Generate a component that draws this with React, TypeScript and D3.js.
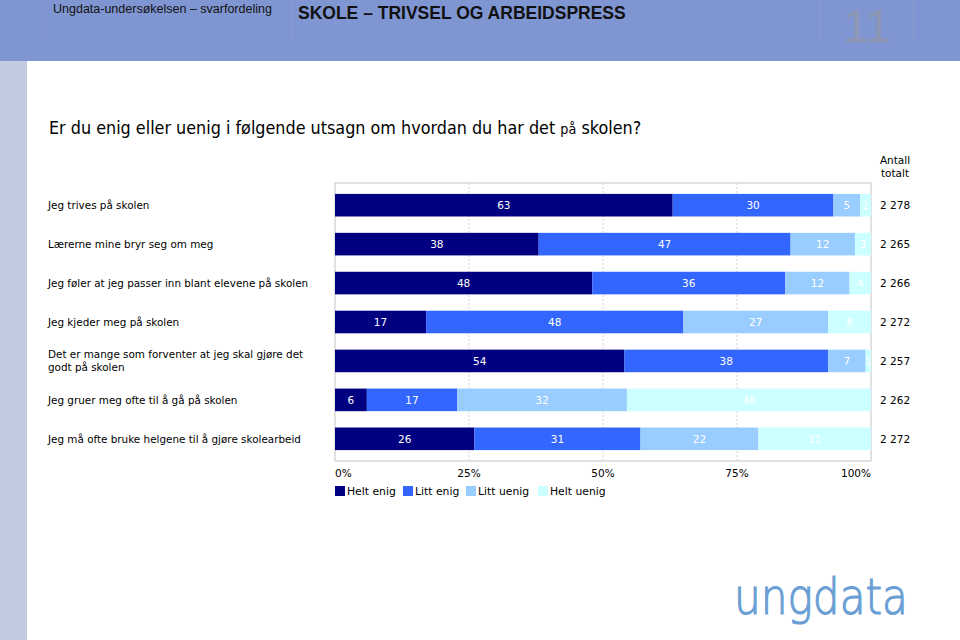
import * as d3 from "d3";

// spørsmål (kategorier)
const statements = [
  ["Jeg trives på skolen"],
  ["Lærerne mine bryr seg om meg"],
  ["Jeg føler at jeg passer inn blant elevene på skolen"],
  ["Jeg kjeder meg på skolen"],
  ["Det er mange som forventer at jeg skal gjøre det", "godt på skolen"],
  ["Jeg gruer meg ofte til å gå på skolen"],
  ["Jeg må ofte bruke helgene til å gjøre skolearbeid"],
];

const seriesNames = ["Helt enig", "Litt enig", "Litt uenig", "Helt uenig"];
const heltEnig = [63, 38, 48, 17, 54, 6, 26];
const littEnig = [30, 47, 36, 48, 38, 17, 31];
const littUenig = [5, 12, 12, 27, 7, 32, 22];
const heltUenig = [2, 3, 4, 8, 1, 46, 21];
const totals = ["2 278", "2 265", "2 266", "2 272", "2 257", "2 262", "2 272"];
const tickValues = [0, 25, 50, 75, 100];

const colors = ["#000080", "#3366ff", "#99ccff", "#ccffff"];

const W = 960;
const H = 640;
const plotLeft = 335;
const plotRight = 871;
const plotTop = 183;
const plotBottom = 461;
const font = "'DejaVu Sans', Verdana, sans-serif";

const App = () => {
  const seriesValues = [heltEnig, littEnig, littUenig, heltUenig];
  const rows = statements.map((_, i) => {
    const vals = seriesValues.map(s => s[i]);
    const sum = d3.sum(vals);
    let acc = 0;
    return vals.map((v, k) => {
      const start = acc;
      acc += (v / sum) * 100;
      return {k, v, x0: start, x1: acc};
    });
  });

  const x = d3.scaleLinear().domain([0, 100]).range([plotLeft, plotRight]);
  const y = d3.scaleBand<number>()
    .domain(d3.range(statements.length))
    .range([plotTop, plotBottom])
    .paddingInner(0.42)
    .paddingOuter(0.28);

  const legendX = [335, 403, 466, 538];
  const mid = (i: number) => y(i)! + y.bandwidth() / 2;

  return (
    <svg width={W} height={H} style={{position: "absolute", left: 0, top: 0}}>
      <rect x={0} y={0} width={W} height={H} fill="#fff"/>
      {/* topplinje */}
      <rect x={0} y={0} width={W} height={61} fill="#8096d2"/>
      {[46, 292, 820, 913].map(lx => (
        <line key={lx} x1={lx} x2={lx} y1={0} y2={40} stroke="#8a9acb" strokeWidth={1}/>
      ))}
      <rect x={0} y={61} width={27} height={H - 61} fill="#c0cbe0"/>
      <text x={53} y={13} fontFamily="'Liberation Sans', Arial, sans-serif" fontSize={12.5} fill="#111">
        Ungdata-undersøkelsen – svarfordeling
      </text>
      <text x={298} y={19} fontFamily="'Liberation Sans', Arial, sans-serif" fontSize={17.5} fontWeight="bold" fill="#111">
        SKOLE – TRIVSEL OG ARBEIDSPRESS
      </text>
      <text x={843} y={42} fontFamily="'Liberation Sans', Arial, sans-serif" fontSize={46} fill="#8e97b4">11</text>

      <text transform="translate(49,134) scale(0.915,1)" fontFamily={font} fontSize={17.5} fill="#000">
        Er du enig eller uenig i følgende utsagn om hvordan du har det <tspan fontSize={14}>på</tspan> skolen?
      </text>

      {/* ramme og rutenett */}
      <rect x={plotLeft} y={plotTop} width={plotRight - plotLeft} height={plotBottom - plotTop}
            fill="none" stroke="#c4c4c4" strokeWidth={1}/>
      {tickValues.slice(1, -1).map(t => (
        <line key={t} x1={x(t)} x2={x(t)} y1={plotTop} y2={plotBottom}
              stroke="#d0d0d0" strokeDasharray="2,2"/>
      ))}

      {rows.map((segs, i) => (
        <g key={i}>
          {segs.map(s => (
            <g key={s.k}>
              <rect x={x(s.x0)} y={y(i)} width={x(s.x1) - x(s.x0)} height={y.bandwidth()} fill={colors[s.k]}/>
              <text x={(x(s.x0) + x(s.x1)) / 2} y={mid(i) + 4}
                    textAnchor="middle" fontFamily={font} fontSize={10.5} fill="#fff">{s.v}</text>
            </g>
          ))}
          {statements[i].map((line, j) => (
            <text key={j} x={48}
                  y={mid(i) + 4 + (statements[i].length > 1 ? (j - 0.5) * 13 : 0)}
                  fontFamily={font} fontSize={10.4} fill="#000">{line}</text>
          ))}
          <text x={880} y={mid(i) + 4} fontFamily={font} fontSize={10.5} fill="#000">
            {totals[i]}
          </text>
        </g>
      ))}

      <text x={895} y={164} textAnchor="middle" fontFamily={font} fontSize={10.5} fill="#000">Antall</text>
      <text x={895} y={177} textAnchor="middle" fontFamily={font} fontSize={10.5} fill="#000">totalt</text>

      {/* x-akse */}
      {tickValues.map((t, i) => (
        <text key={t} x={x(t)} y={477}
              textAnchor={i === 0 ? "start" : i === tickValues.length - 1 ? "end" : "middle"}
              fontFamily={font} fontSize={10.5} fill="#000">{t}%</text>
      ))}

      {/* forklaring */}
      {seriesNames.map((n, k) => (
        <g key={n}>
          <rect x={legendX[k]} y={486} width={10} height={10} fill={colors[k]}/>
          <text x={legendX[k] + 12} y={495} fontFamily={font} fontSize={10.8} fill="#000">{n}</text>
        </g>
      ))}

      <text x={734} y={614} fontFamily="'DejaVu Sans', sans-serif" fontWeight={200} fontSize={50}
            fill="#6a9fd5" stroke="#6a9fd5" strokeWidth={1.2}
            textLength={174} lengthAdjust="spacingAndGlyphs">ungdata</text>
    </svg>
  );
};

export default App;
